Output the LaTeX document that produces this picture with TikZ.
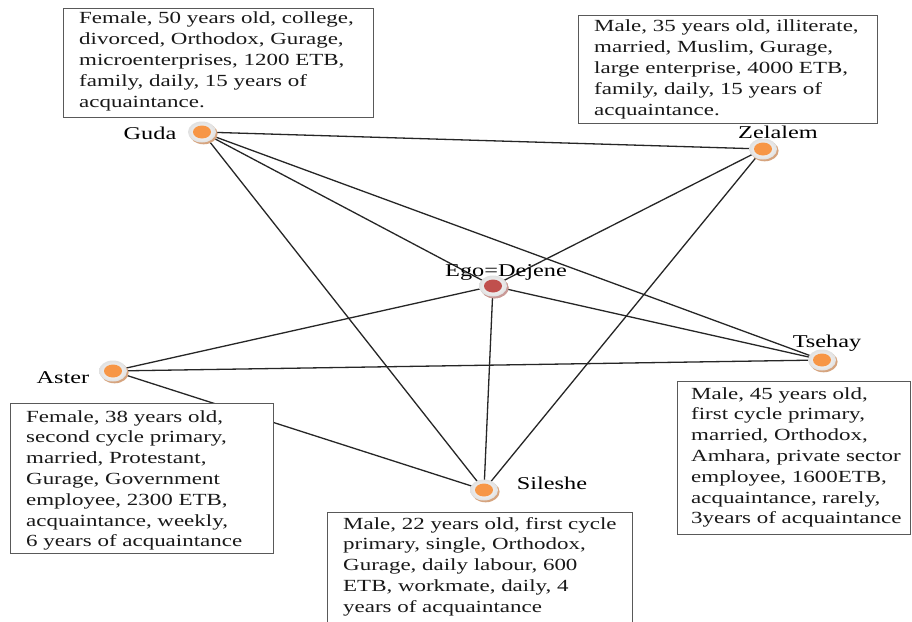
\documentclass[tikz,border=0pt]{standalone}
\usepackage{fontspec}
\setmainfont{Liberation Serif}[FakeStretch=1.35]
\usetikzlibrary{shapes.geometric,shadows}
\pgfdeclarelayer{bg}
\pgfsetlayers{bg,main}
\definecolor{dotorange}{HTML}{F79646}
\definecolor{dotred}{HTML}{C0504D}
\definecolor{shadowbrown}{HTML}{D6A47E}
\definecolor{shadowred}{HTML}{C99A98}
\definecolor{linecol}{HTML}{262626}
\tikzset{
  x=1pt, y=-1pt,
  dot/.style={ellipse, inner sep=0pt, minimum width=28pt, minimum height=21pt,
    shading=radial, inner color=white, outer color=black!12,
    drop shadow={shadow xshift=1.6pt, shadow yshift=-1.8pt, fill=shadowbrown, opacity=1},
    path picture={\fill[#1] (path picture bounding box.center) ellipse [x radius=9pt, y radius=6.5pt];}},
  dot/.default=dotorange,
  namelabel/.style={font=\fontsize{18}{20}\selectfont, inner sep=0pt},
  boxframe/.style={draw=black!65, line width=0.9pt, fill=white, anchor=north west, inner sep=0pt},
  boxtext/.style={anchor=north west, align=left, inner sep=0pt,
    font=\fontsize{17}{20.8}\selectfont, text=black!90},
  tie/.style={draw=linecol, line width=1.3pt}
}
\begin{document}
\begin{tikzpicture}
\useasboundingbox (0,0) rectangle (912,621);
\clip (0,0) rectangle (912,621);

% people
\node[dot] (guda) at (202,132) {};
\node[dot] (zel) at (763,149) {};
\node[dot=dotred, drop shadow={shadow xshift=1.6pt, shadow yshift=-1.8pt, fill=shadowred, opacity=1}] (ego) at (493,286) {};
\node[dot] (tse) at (822,360) {};
\node[dot] (ast) at (113,371) {};
\node[dot] (sil) at (484,490) {};

% labels
\node[namelabel] (gudalab) at (150,133) {Guda};
\node[namelabel] (zellab) at (778,132) {Zelalem};
\node[namelabel] (egolab) at (506,272) {Ego=Dejene};
\node[namelabel] (tselab) at (827,343) {Tsehay};
\node[namelabel] (astlab) at (63,378) {Aster};
\node[namelabel] (sillab) at (552,483) {Sileshe};

% ties
\begin{pgfonlayer}{bg}
\fill[white] (0,0) rectangle (912,621);
\draw[tie] (guda.center) -- (zel.center);
\draw[tie] (guda.center) -- (ego.center);
\draw[tie] (guda.center) -- (tse.center);
\draw[tie] (guda.center) -- (sil.center);
\draw[tie] (zel.center) -- (ego.center);
\draw[tie] (zel.center) -- (sil.center);
\draw[tie] (ego.center) -- (ast.center);
\draw[tie] (ego.center) -- (tse.center);
\draw[tie] (ego.center) -- (sil.center);
\draw[tie] (ast.center) -- (tse.center);
\draw[tie] (ast.center) -- (sil.center);
\end{pgfonlayer}

% info boxes
\node[boxframe, minimum width=310pt, minimum height=109pt] (gudabox) at (63,8) {};
\node[boxtext] (gudatext) at (79,12)
 {Female, 50 years old, college,\\divorced, Orthodox, Gurage,\\microenterprises, 1200 ETB,\\family, daily, 15 years of\\acquaintance.};
\node[boxframe, minimum width=299pt, minimum height=108pt] (zelbox) at (578,15) {};
\node[boxtext] (zeltext) at (594,20)
 {Male, 35 years old, illiterate,\\married, Muslim, Gurage,\\large enterprise, 4000 ETB,\\family, daily, 15 years of\\acquaintance.};
\node[boxframe, minimum width=263pt, minimum height=150pt] (astbox) at (10,403) {};
\node[boxtext] (asttext) at (26,410)
 {Female, 38 years old,\\second cycle primary,\\married, Protestant,\\Gurage, Government\\employee, 2300 ETB,\\acquaintance, weekly,\\6 years of acquaintance};
\node[boxframe, minimum width=233pt, minimum height=153pt] (tsebox) at (677,381) {};
\node[boxtext] (tsetext) at (691,387)
 {Male, 45 years old,\\first cycle primary,\\married, Orthodox,\\Amhara, private sector\\employee, 1600ETB,\\acquaintance, rarely,\\3years of acquaintance};
\node[boxframe, minimum width=305pt, minimum height=120pt] (silbox) at (327,512) {};
\node[boxtext] (siltext) at (343,517)
 {Male, 22 years old, first cycle\\primary, single, Orthodox,\\Gurage, daily labour, 600\\ETB, workmate, daily, 4\\years of acquaintance};
\end{tikzpicture}
\end{document}
